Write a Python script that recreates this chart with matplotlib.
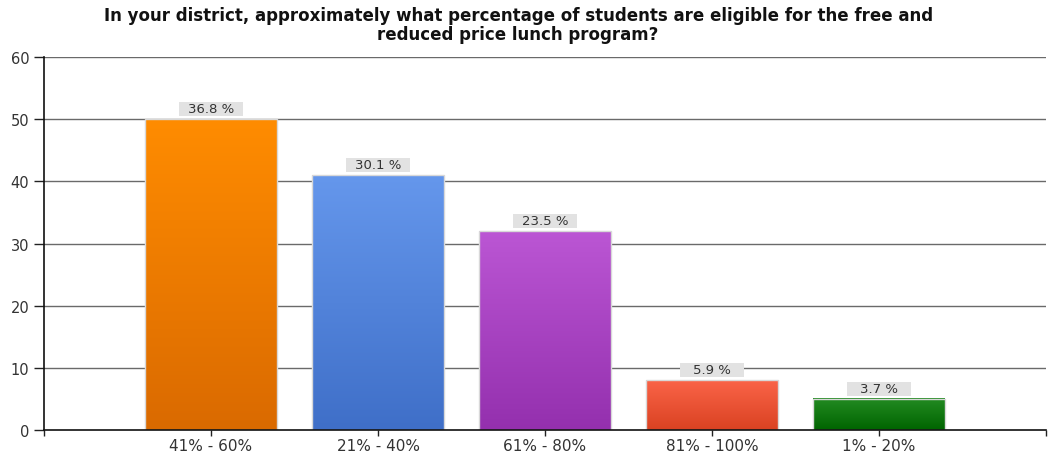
import numpy as np
import matplotlib.pyplot as plt
from matplotlib.colors import LinearSegmentedColormap
from matplotlib.patches import Rectangle

# survey answers, sorted by response count
categories = ["41% - 60%", "21% - 40%", "61% - 80%", "81% - 100%", "1% - 20%"]
counts = [50, 41, 32, 8, 5]
percent_labels = ["36.8 %", "30.1 %", "23.5 %", "5.9 %", "3.7 %"]
y_ticks = [0, 10, 20, 30, 40, 50, 60]

# top / bottom colour of each bar's gradient
top_colors = ["#ff8c00", "#6597ec", "#bb56d4", "#fa6448", "#238b22"]
bottom_colors = ["#da6a00", "#3f6fc8", "#9430ae", "#da4222", "#006400"]

title = ("In your district, approximately what percentage of students are eligible for the free and\n"
         "reduced price lunch program?")

fig = plt.figure(figsize=(10.53, 4.56), dpi=100)
ax = fig.add_axes([0.0418, 0.0548, 0.9516, 0.818])

bar_w = 0.79
x = np.arange(len(categories))

ax.set_xlim(-1, len(categories))
ax.set_ylim(0, 60)

for y in y_ticks[1:]:
    ax.axhline(y, color="#6a6a6a", lw=1.0, zorder=1)

grad = np.linspace(0, 1, 256).reshape(-1, 1)
for xi, h, c_top, c_bot, lab in zip(x, counts, top_colors, bottom_colors, percent_labels):
    cmap = LinearSegmentedColormap.from_list("g", [c_bot, c_top])
    ax.imshow(grad, cmap=cmap, origin="lower", aspect="auto",
              extent=[xi - bar_w / 2, xi + bar_w / 2, 0, h], zorder=2)
    ax.add_patch(Rectangle((xi - bar_w / 2, 0), bar_w, h, fill=False,
                           edgecolor="#d8d8d8", lw=1.0, zorder=3))
    # grey label box above the bar
    ax.add_patch(Rectangle((xi - 0.19, h + 0.55), 0.38, 2.25, facecolor="#e2e2e2",
                           edgecolor="none", zorder=3))
    ax.text(xi, h + 0.55 + 1.12, lab, ha="center", va="center", fontsize=9.5,
            color="#333333", zorder=4)

ax.set_xlim(-1, len(categories))
ax.set_ylim(0, 60)

ax.set_yticks(y_ticks)
ax.set_xticks(list(range(-1, len(categories) + 1)))
ax.set_xticklabels([""] + categories + [""])
ax.tick_params(axis="y", length=7.5, width=1, color="#222222", labelsize=10.5,
               labelcolor="#333333", pad=3)
ax.tick_params(axis="x", length=4, width=1, color="#222222", labelsize=11,
               labelcolor="#333333", pad=1.5)

for side in ["top", "right"]:
    ax.spines[side].set_visible(False)
for side in ["left", "bottom"]:
    ax.spines[side].set_color("#111111")
    ax.spines[side].set_linewidth(1.2)
    ax.spines[side].set_zorder(5)

fig.text(0.492, 0.985, title, ha="center", va="top", fontsize=12,
         fontweight="bold", color="#111111", linespacing=1.1)

fig.savefig("out.png", dpi=100)
